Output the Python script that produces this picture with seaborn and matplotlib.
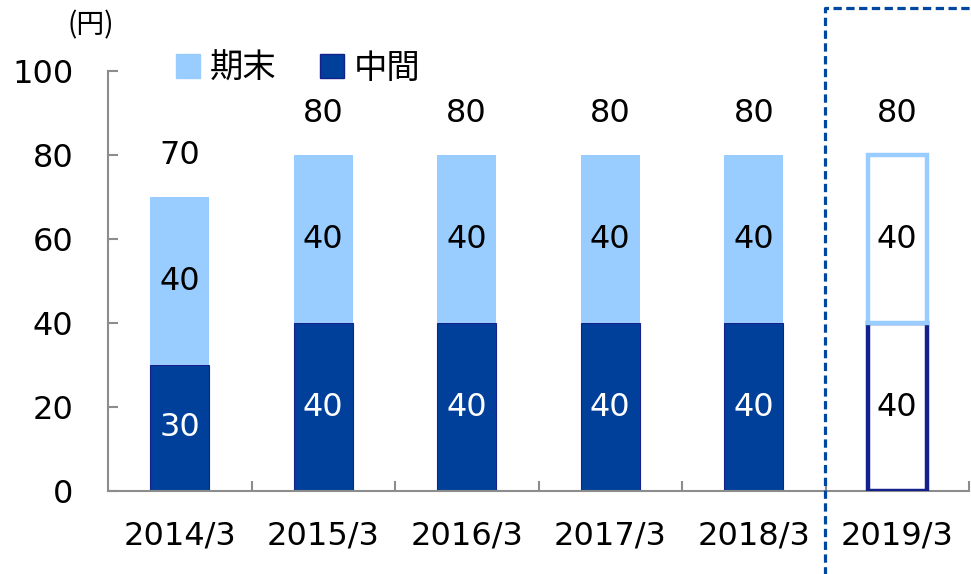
import matplotlib
matplotlib.use('Agg')
import matplotlib.pyplot as plt
from matplotlib.lines import Line2D
from matplotlib.patches import Patch
import seaborn as sns

periods = ['2014/3', '2015/3', '2016/3', '2017/3', '2018/3', '2019/3']
interim = [30, 40, 40, 40, 40, 40]
final = [40, 40, 40, 40, 40, 40]
totals = [a + b for a, b in zip(interim, final)]

LIGHT = '#99CCFF'
DARK = '#00409A'
DARK_EDGE = '#14218C'
GRAY = '#8C8C8C'
FS = 23

sns.set_theme(style='white')
plt.rcParams['font.family'] = ['DejaVu Sans', 'Noto Sans CJK JP']
plt.rcParams['text.color'] = 'black'

fig = plt.figure(figsize=(9.71, 5.74), dpi=100)
ax = fig.add_axes([108 / 971, 1 - 491 / 574, 861 / 971, 420 / 574])

sns.barplot(x=periods, y=interim, color=DARK, width=0.41, errorbar=None,
            saturation=1, edgecolor=DARK_EDGE, linewidth=0.8, ax=ax)
sns.barplot(x=periods, y=final, bottom=interim, color=LIGHT, width=0.41,
            errorbar=None, saturation=1, linewidth=0, ax=ax)

# forecast year drawn as outlined bars
n = len(periods)
bars = ax.patches
for p, ec, z in ((bars[n - 1], DARK_EDGE, 3), (bars[2 * n - 1], LIGHT, 3.1)):
    p.set_facecolor('white')
    p.set_edgecolor(ec)
    p.set_linewidth(3.2)
    p.set_zorder(z)

for i in range(n):
    forecast = i == n - 1
    ax.text(i, interim[i] / 2, str(interim[i]), ha='center', va='center',
            fontsize=FS, color='black' if forecast else 'white', zorder=5)
    ax.text(i, interim[i] + final[i] / 2, str(final[i]), ha='center',
            va='center', fontsize=FS, color='black', zorder=5)
    ax.text(i, totals[i] + 10, str(totals[i]), ha='center', va='center',
            fontsize=FS, color='black')

ax.set_ylim(0, 100)
ax.set_xlim(-0.5, n - 0.5)
ax.set_yticks(range(0, 101, 20))
ax.set_xlabel('')
ax.set_ylabel('')
ax.set_xticks([i + 0.5 for i in range(n)], minor=True)
ax.tick_params(axis='x', which='major', length=0, pad=21, labelsize=FS,
               labelcolor='black')
ax.tick_params(axis='x', which='minor', direction='in', length=7,
               width=1.5, color=GRAY, bottom=True)
ax.tick_params(axis='y', direction='in', length=7, width=1.5, color=GRAY,
               pad=25, labelsize=FS, labelcolor='black', left=True)
for side in ('top', 'right'):
    ax.spines[side].set_visible(False)
for side in ('left', 'bottom'):
    ax.spines[side].set_color(GRAY)
    ax.spines[side].set_linewidth(1.5)

fig.text(91 / 971, 1 - 25 / 574, '(円)', ha='center', va='center',
         fontsize=20, color='black', family=['Noto Sans CJK JP', 'DejaVu Sans'])

handles = [Patch(facecolor=LIGHT, edgecolor=LIGHT, label='期末'),
           Patch(facecolor=DARK, edgecolor=DARK_EDGE, label='中間')]
fig.legend(handles=handles, loc='center left',
           bbox_to_anchor=(176 / 971, 1 - 68 / 574), ncol=2, frameon=False,
           handlelength=0.72, handleheight=0.72, handletextpad=0.3,
           columnspacing=1.3, borderpad=0, borderaxespad=0,
           prop={'family': ['Noto Sans CJK JP'], 'size': 24})

# dashed frame around the forecast year
fig.add_artist(Line2D([825 / 971, 825 / 971, 1.02], [-0.02, 1 - 8 / 574, 1 - 8 / 574],
                      transform=fig.transFigure, color='#0047A0', lw=2.3,
                      linestyle=(0, (2.6, 1.4)), clip_on=False))

fig.savefig('out.png', dpi=100)
